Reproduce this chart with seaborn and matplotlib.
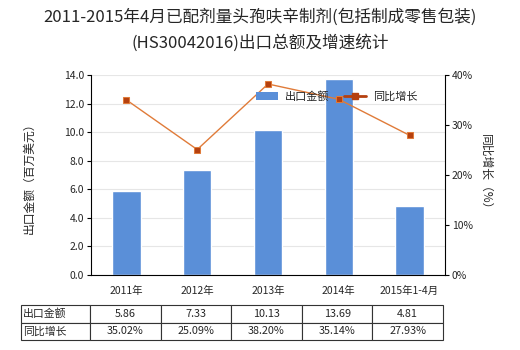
import matplotlib
matplotlib.use("Agg")
import matplotlib.pyplot as plt
import seaborn as sns
import pandas as pd
from matplotlib.lines import Line2D
from matplotlib.patches import Patch

sns.set_theme(style="white")
plt.rcParams['font.family'] = ['Noto Sans CJK SC', 'DejaVu Sans']

categories = ["2011年", "2012年", "2013年", "2014年", "2015年1-4月"]
export_values = [5.86, 7.33, 10.13, 13.69, 4.81]
growth_rates = [35.02, 25.09, 38.20, 35.14, 27.93]
export_labels = ["5.86", "7.33", "10.13", "13.69", "4.81"]
growth_labels = ["35.02%", "25.09%", "38.20%", "35.14%", "27.93%"]
title_lines = ["2011-2015年4月已配剂量头孢呋辛制剂(包括制成零售包装)",
               "(HS30042016)出口总额及增速统计"]

bar_color = "#5a8fd8"
line_color = "#e07b39"
marker_color = "#b5400f"

df = pd.DataFrame({"cat": categories, "val": export_values, "g": growth_rates})

fig = plt.figure(figsize=(5.2, 3.5), dpi=100)
ax = fig.add_axes([91/520, 1-275/350, 354/520, 200/350])

sns.barplot(data=df, x="cat", y="val", color=bar_color, width=0.4, ax=ax,
            saturation=1, zorder=2)
ax.set_ylim(0, 14)
ax.set_yticks([0, 2, 4, 6, 8, 10, 12, 14])
ax.set_yticklabels([f"{v:.1f}" for v in [0, 2, 4, 6, 8, 10, 12, 14]], fontsize=7.5)
ax.set_xlim(-0.5, 4.5)
ax.tick_params(axis='x', labelsize=7.5, length=0, pad=8)
ax.tick_params(axis='y', length=3, width=0.8, color='black', direction='out', left=True, pad=2)
ax.yaxis.grid(True, color="#e6e6e6", linewidth=0.8, zorder=0)
ax.set_axisbelow(True)
ax.set_xlabel("")
ax.set_ylabel("出口金额（百万美元）", fontsize=8.5, labelpad=20)
for s in ["top", "right"]:
    ax.spines[s].set_visible(False)
for s in ["left", "bottom"]:
    ax.spines[s].set_color("black")
    ax.spines[s].set_linewidth(0.8)

ax2 = ax.twinx()
sns.lineplot(x=list(range(len(categories))), y=growth_rates, ax=ax2, color=line_color,
             linewidth=1, marker="s", markersize=5, markerfacecolor=marker_color,
             markeredgecolor=line_color, zorder=3)
ax2.set_ylim(0, 40)
ax2.set_yticks([0, 10, 20, 30, 40])
ax2.set_yticklabels([f"{v}%" for v in [0, 10, 20, 30, 40]], fontsize=7.5)
ax2.tick_params(axis='y', length=3, width=0.8, color='black', direction='out', right=True, pad=2)
ax2.set_ylabel("同比增长（%）", fontsize=8.5, rotation=270, labelpad=14)
for s in ["top", "left", "bottom"]:
    ax2.spines[s].set_visible(False)
ax2.spines["right"].set_color("black")
ax2.spines["right"].set_linewidth(0.8)
ax2.grid(False)

handles = [Patch(facecolor=bar_color, edgecolor='none'),
           Line2D([0], [0], color=marker_color, linewidth=2, marker="s", markersize=5,
                  markerfacecolor=marker_color)]
ax2.legend(handles, ["出口金额", "同比增长"], loc="upper right", bbox_to_anchor=(0.95, 0.97),
           ncol=2, frameon=False, fontsize=8, handlelength=2.0, columnspacing=1.3,
           handletextpad=0.6)

fig.text(0.5, 1 - 17/350, title_lines[0], fontsize=12, ha='center', va='center')
fig.text(0.5, 1 - 43/350, title_lines[1], fontsize=12, ha='center', va='center')

# table
cell_text = [["出口金额"] + export_labels, ["同比增长"] + growth_labels]
axw = 354
left = (21 - 91) / axw
width = (443 - 21) / axw
tbl = ax.table(cellText=cell_text, cellLoc='center',
               bbox=[left, (275 - 340) / 200, width, 35 / 200],
               colWidths=[69] + [70.6] * 5)
tbl.auto_set_font_size(False)
tbl.set_fontsize(7.8)
for (r, c), cell in tbl.get_celld().items():
    cell.set_edgecolor("#333333")
    cell.set_linewidth(0.8)
    if c == 0:
        cell.set_text_props(ha='left')
        cell.PAD = 0.03

fig.savefig("out.png", dpi=100)
